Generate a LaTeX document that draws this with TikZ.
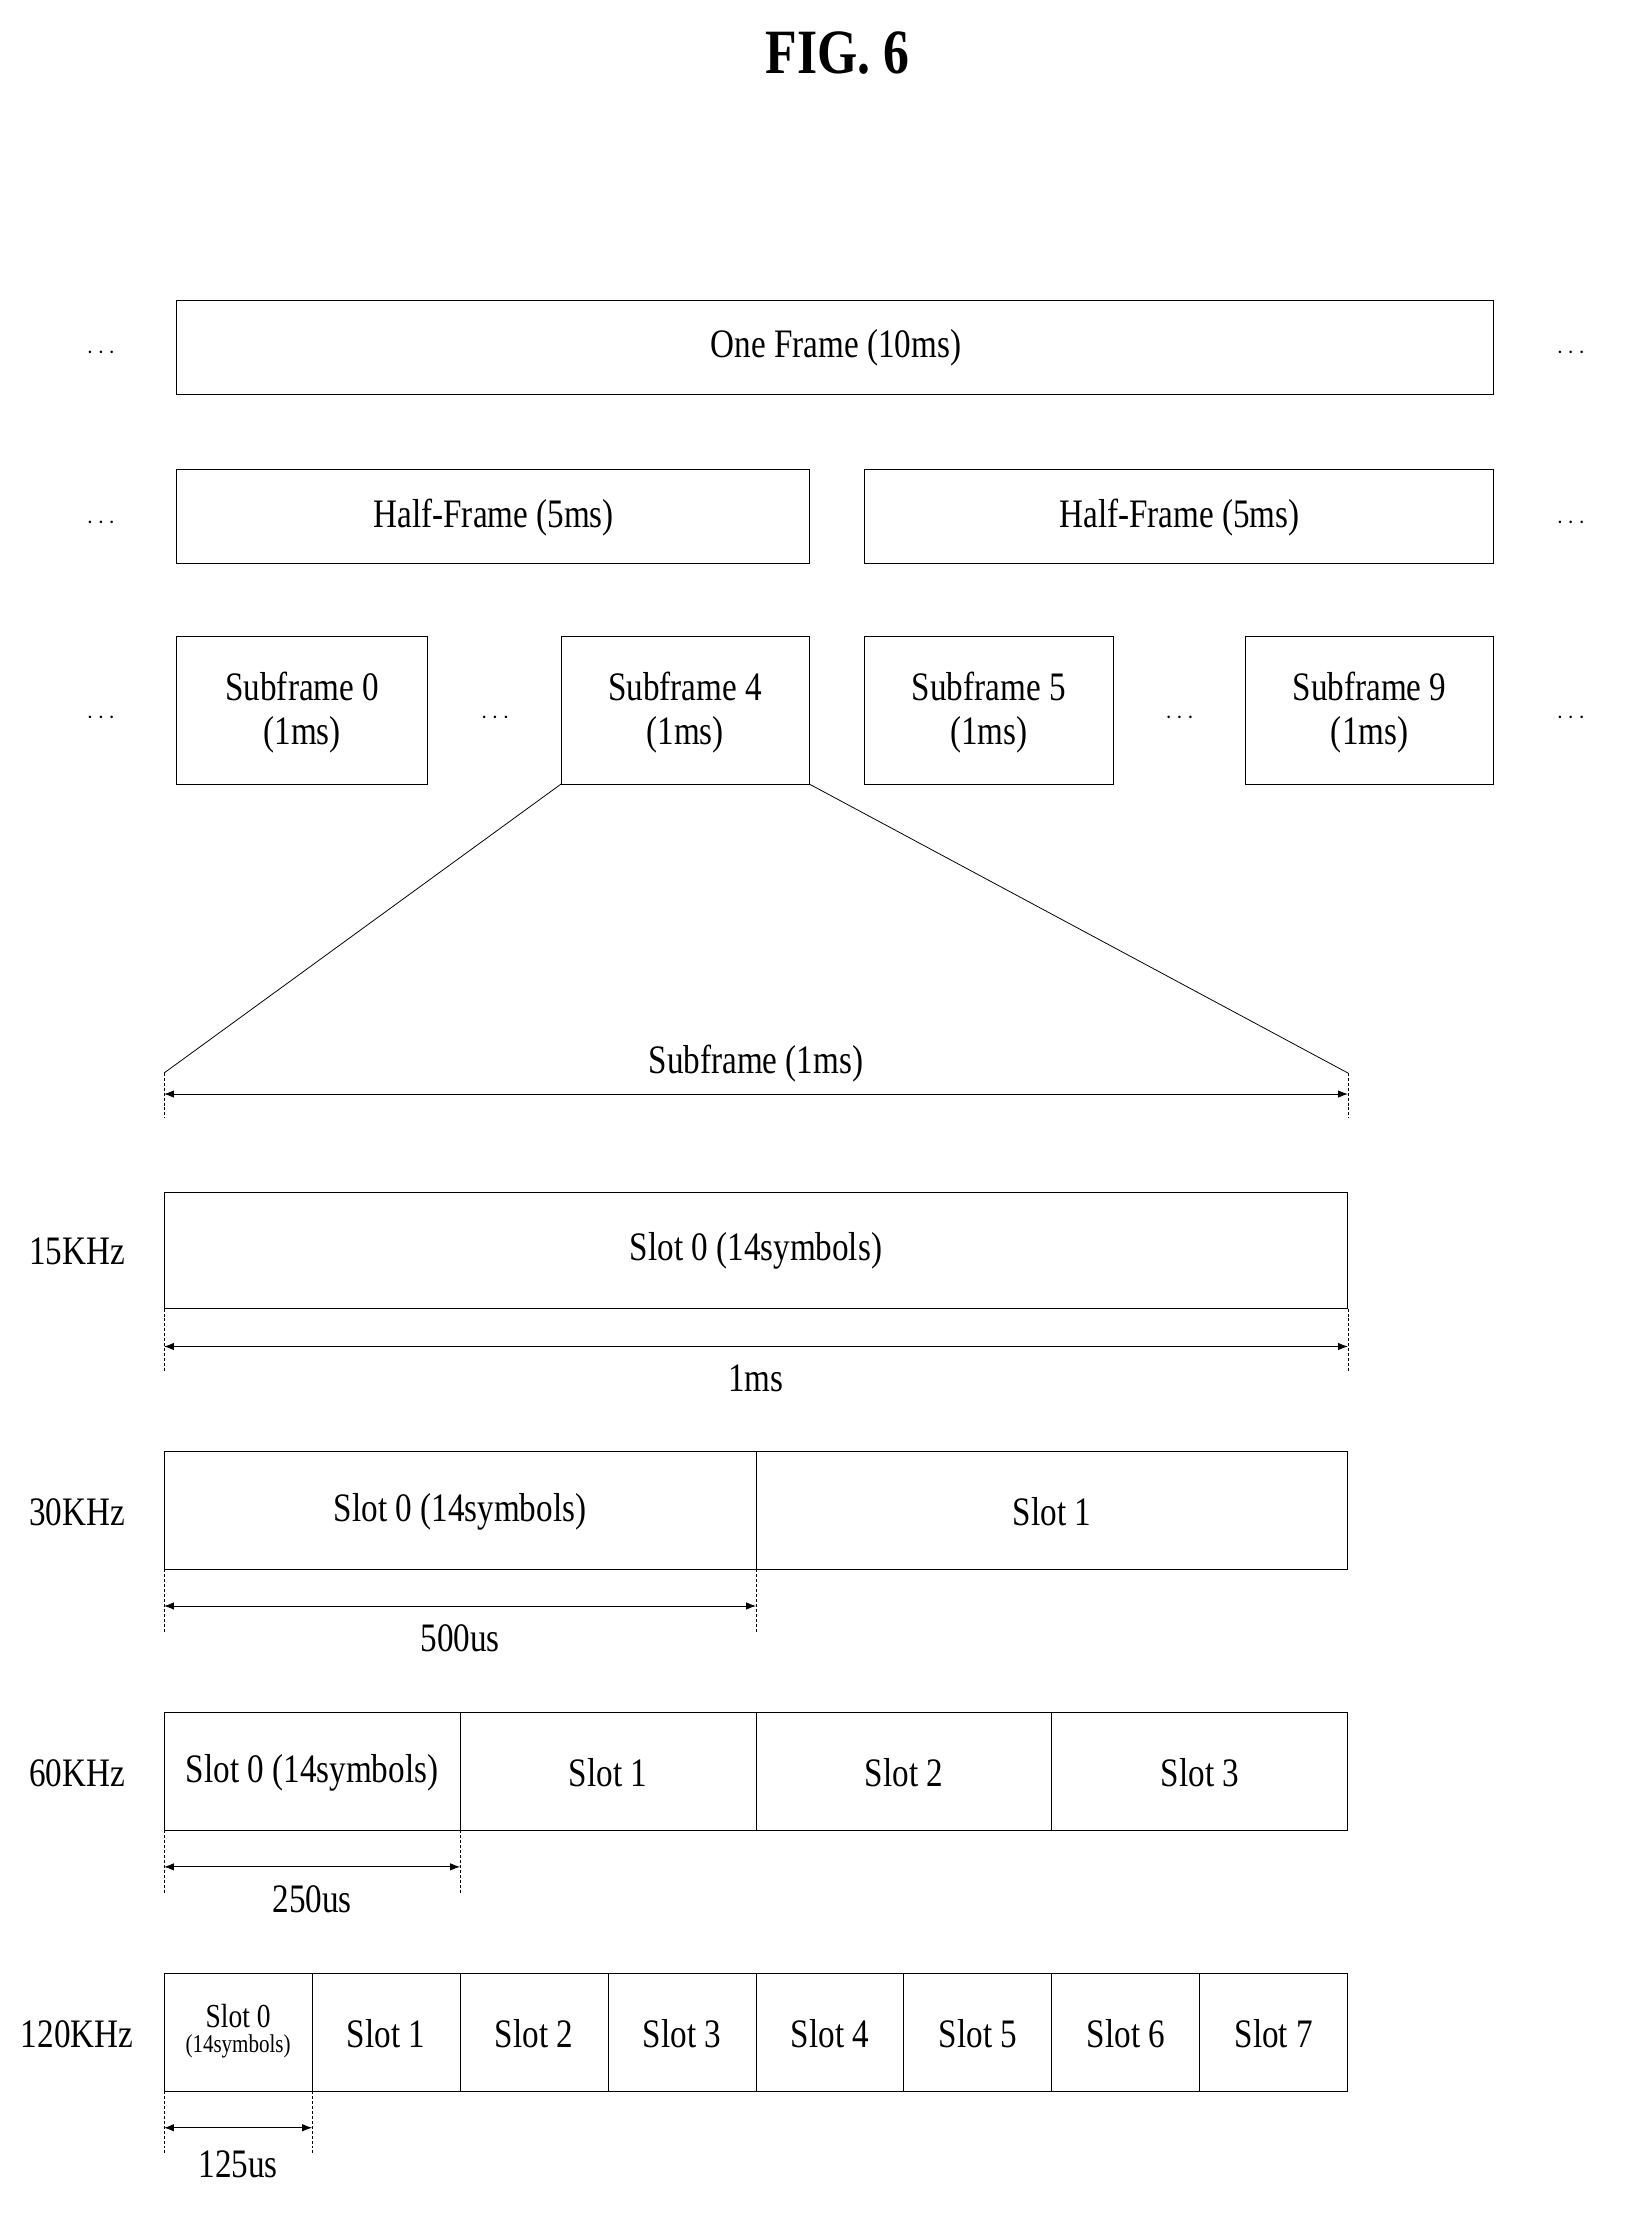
\documentclass[tikz,border=0pt]{standalone}
\usepackage{fontspec}
\setmainfont{Liberation Serif}[FakeStretch=0.82]
\usetikzlibrary{arrows.meta}
\begin{document}
\begin{tikzpicture}[x=0.05cm,y=-0.05cm,
  box/.style={draw,line width=1pt},
  tb/.style={draw,line width=1pt},
  lbl/.style={font=\fontsize{41}{44}\selectfont},
  dim/.style={{Latex[length=10pt]}-{Latex[length=10pt]},line width=0.8pt},
  tick/.style={densely dashed,line width=0.8pt}]
\useasboundingbox (0,0) rectangle (1160,1583.5);
\node[font=\fontsize{64}{64}\selectfont\bfseries] (title) at (597,38) {FIG. 6};
% top rows
\draw[tb] (126,214) rectangle (1065,281); \node[lbl] (of) at (596,248) {One Frame (10ms)};
\draw[tb] (126,335) rectangle (577,402); \node[lbl] (h1) at (352,369) {Half-Frame (5ms)};
\draw[tb] (616,335) rectangle (1065,402); \node[lbl] (h2) at (841,369) {Half-Frame (5ms)};
\foreach \a/\b/\t [count=\i] in {126/305/0,400/577/4,616/794/5,888/1065/9}{
  \draw[tb] (\a,454) rectangle (\b,559);
  \node[lbl,align=center] (sf\i) at ({(\a+\b)/2},508) {Subframe \t\\(1ms)};}
\foreach \x/\y [count=\i] in {72/248,1120/248,72/369,1120/369,72/508,353/508,841/508,1120/508}
  \node[lbl] (d\i) at (\x,\y+4) {$\cdots$};
% zoom lines
\coordinate (zl) at (117,765); \coordinate (zr) at (961,765);
\coordinate (s4l) at (400,559); \coordinate (s4r) at (577,559);
\draw[line width=0.8pt] (s4l) -- (zl); \draw[line width=0.8pt] (s4r) -- (zr);
\draw[tick] (117,765) -- (117,797); \draw[tick] (961,765) -- (961,797);
\coordinate (a1) at (117,780); \coordinate (a2) at (961,780);
\draw[dim] (a1) -- (a2); \node[lbl] (sfl) at (539,758) {Subframe (1ms)};
% 15
\node[lbl] (k15) at (55,892) {15KHz};
\draw[box] (117,850) rectangle (961,933); \node[lbl] (s15) at (539,892) {Slot 0 (14symbols)};
\draw[tick] (117,933) -- (117,978); \draw[tick] (961,933) -- (961,978);
\coordinate (b1) at (117,960); \coordinate (b2) at (961,960);
\draw[dim] (b1) -- (b2); \node[lbl] (l15) at (539,983) {1ms};
% 30
\node[lbl] (k30) at (55,1078) {30KHz};
\draw[box] (117,1035) rectangle (961,1119); \draw[box] (539,1035) -- (539,1119);
\node[lbl] (s30a) at (328,1078) {Slot 0 (14symbols)};
\node[lbl] (s30b) at (750,1078) {Slot 1};
\draw[tick] (117,1119) -- (117,1164); \draw[tick] (539,1119) -- (539,1164);
\coordinate (c1) at (117,1145); \coordinate (c2) at (539,1145);
\draw[dim] (c1) -- (c2); \node[lbl] (l30) at (328,1168) {500us};
% 60
\node[lbl] (k60) at (55,1264) {60KHz};
\draw[box] (117,1221) rectangle (961,1305);
\foreach \x in {328,539,750} \draw[box] (\x,1221) -- (\x,1305);
\node[lbl,inner sep=0pt] (s60a) at (222.5,1264) {Slot 0 (14symbols)};
\foreach \t [count=\i] in {1,2,3} \node[lbl] (s60\i) at ({222.5+211*\i},1264) {Slot \t};
\draw[tick] (117,1305) -- (117,1350); \draw[tick] (328,1305) -- (328,1350);
\coordinate (e1) at (117,1331); \coordinate (e2) at (328,1331);
\draw[dim] (e1) -- (e2); \node[lbl] (l60) at (222.5,1354) {250us};
% 120
\node[lbl] (k120) at (55,1450) {120KHz};
\draw[box] (117,1407) rectangle (961,1491);
\foreach \i in {1,...,7} \draw[box] ({117+105.5*\i},1407) -- ({117+105.5*\i},1491);
\node[align=center,inner sep=0pt] (s120a) at (169.75,1448) {\fontsize{34}{30}\selectfont Slot 0\\[6pt]\fontsize{26}{26}\selectfont(14symbols)};
\foreach \i in {1,...,7} \node[lbl] (s120\i) at ({169.75+105.5*\i},1450) {Slot \i};
\draw[tick] (117,1491) -- (117,1536); \draw[tick] (222.5,1491) -- (222.5,1536);
\coordinate (f1) at (117,1517); \coordinate (f2) at (222.5,1517);
\draw[dim] (f1) -- (f2); \node[lbl] (l120) at (169.75,1543) {125us};
\end{tikzpicture}
\end{document}
